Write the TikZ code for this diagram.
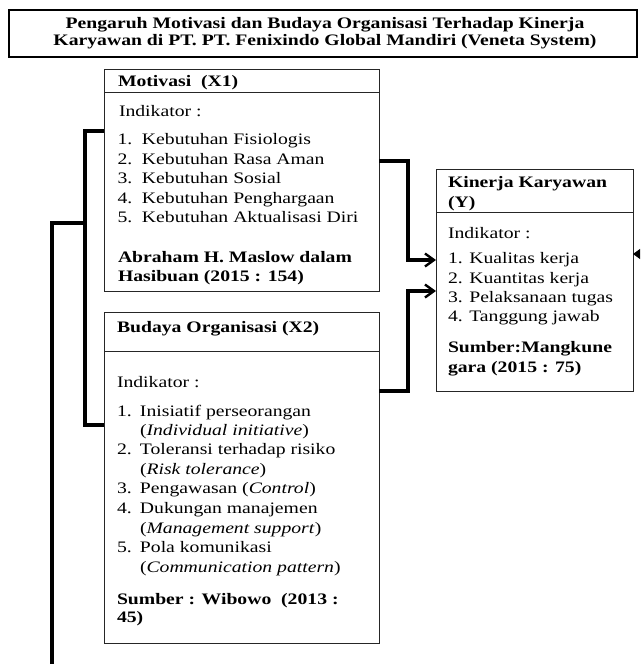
\documentclass[tikz,border=0pt]{standalone}
\usepackage{fontspec}
\setmainfont{Liberation Serif}[FakeStretch=1.23]
\usetikzlibrary{arrows.meta}
\begin{document}
\begin{tikzpicture}[x=1pt,y=-1pt,
  every node/.style={font=\fontsize{16pt}{19.5pt}\selectfont},
  txt/.style={anchor=base west, inner sep=0pt, outer sep=0pt},
  ttl/.style={anchor=base, inner sep=0pt, font=\fontsize{16pt}{17pt}\selectfont\bfseries},
  hd/.style={txt, font=\fontsize{16pt}{19.5pt}\selectfont\bfseries},
  box/.style={draw=black!85, line width=1pt, anchor=north west, inner sep=0pt, outer sep=0pt},
  conn/.style={line width=3.3pt, black},
  tip/.style={-{Straight Barb[length=9pt,width=13pt,line width=2.4pt]}}
]
\useasboundingbox (0,0) rectangle (640,664);
\clip (0,0) rectangle (640,664);

% title
\node[draw=black, line width=2.2pt, anchor=north west, minimum width=628pt, minimum height=47pt, inner sep=0pt] (tbox) at (8,9) {};
\node[ttl] (t1) at (325,28) {Pengaruh Motivasi dan Budaya Organisasi Terhadap Kinerja};
\node[ttl] (t2) at (325,45) {Karyawan di PT. PT. Fenixindo Global Mandiri (Veneta System)};

% Motivasi box
\node[box, minimum width=275pt, minimum height=222pt] (mot) at (104,69) {};
\draw[draw=black!85, line width=1pt] ([yshift=-23pt]mot.north west) coordinate (mdl) -- ([yshift=-23pt]mot.north east) coordinate (mdr);
\node[hd] (mh) at (118,86) {Motivasi\ \ (X1)};
\node[txt] (mi) at (119,116) {Indikator :};
\node[txt] (m1) at (117.5,144.5) {\makebox[24.5pt][l]{1.}Kebutuhan Fisiologis};
\node[txt] (m2) at (117.5,164) {\makebox[24.5pt][l]{2.}Kebutuhan Rasa Aman};
\node[txt] (m3) at (117.5,183.5) {\makebox[24.5pt][l]{3.}Kebutuhan Sosial};
\node[txt] (m4) at (117.5,203) {\makebox[24.5pt][l]{4.}Kebutuhan Penghargaan};
\node[txt] (m5) at (117.5,222.5) {\makebox[24.5pt][l]{5.}Kebutuhan Aktualisasi Diri};
\node[hd] (ms1) at (118,262) {Abraham H. Maslow dalam};
\node[hd] (ms2) at (118,281) {Hasibuan (2015 : 154)};

% Budaya box
\node[box, minimum width=275pt, minimum height=331pt] (bud) at (104,312) {};
\draw[draw=black!85, line width=1pt] ([yshift=-39pt]bud.north west) coordinate (bdl) -- ([yshift=-39pt]bud.north east) coordinate (bdr);
\node[hd] (bh) at (117,332) {Budaya Organisasi (X2)};
\node[txt] (bi) at (117,387) {Indikator :};
\node[txt] (b1) at (117,416) {\makebox[23pt][l]{1.}Inisiatif perseorangan};
\node[txt] (b1e) at (140,435) {(\textit{Individual initiative})};
\node[txt] (b2) at (117,454) {\makebox[23pt][l]{2.}Toleransi terhadap risiko};
\node[txt] (b2e) at (140,474) {(\textit{Risk tolerance})};
\node[txt] (b3) at (117,493) {\makebox[23pt][l]{3.}Pengawasan (\textit{Control})};
\node[txt] (b4) at (117,513) {\makebox[23pt][l]{4.}Dukungan manajemen};
\node[txt] (b4e) at (140,533) {(\textit{Management support})};
\node[txt] (b5) at (117,552) {\makebox[23pt][l]{5.}Pola komunikasi};
\node[txt] (b5e) at (140,572) {(\textit{Communication pattern})};
\node[hd] (bs1) at (117,604) {Sumber : Wibowo\ \ (2013 :};
\node[hd] (bs2) at (117,622) {45)};

% Kinerja box
\node[box, minimum width=197pt, minimum height=222pt] (kin) at (436,169) {};
\draw[draw=black!85, line width=1pt] ([yshift=-43pt]kin.north west) coordinate (kdl) -- ([yshift=-43pt]kin.north east) coordinate (kdr);
\node[hd] (kh1) at (448,187) {Kinerja Karyawan};
\node[hd] (kh2) at (448,207) {(Y)};
\node[txt] (ki) at (448,238) {Indikator :};
\node[txt] (k1) at (448,263) {1. Kualitas kerja};
\node[txt] (k2) at (448,283) {2. Kuantitas kerja};
\node[txt] (k3) at (448,302) {3. Pelaksanaan tugas};
\node[txt] (k4) at (448,321) {4. Tanggung jawab};
\node[hd] (ks1) at (448,352) {Sumber:Mangkune};
\node[hd] (ks2) at (448,372) {gara (2015 : 75)};

% connectors
\draw[conn, tip] ([yshift=-92pt]mot.north east) -- ++(29pt,0) |- ([yshift=-91pt]kin.north west);
\draw[conn, tip] ([yshift=-79pt]bud.north east) -- ++(29pt,0) |- ([yshift=-122pt]kin.north west);
\draw[conn] ([yshift=-62pt]mot.north west) -- ++(-19pt,0) |- ([yshift=-113pt]bud.north west);
\coordinate (jn) at (85,223);
\coordinate (bot) at (52,690);
\draw[conn] (jn) -| (bot);
\coordinate (rin) at (670,254);
\draw[conn, tip] (rin) -- ([yshift=-85pt]kin.north east);
\end{tikzpicture}
\end{document}
